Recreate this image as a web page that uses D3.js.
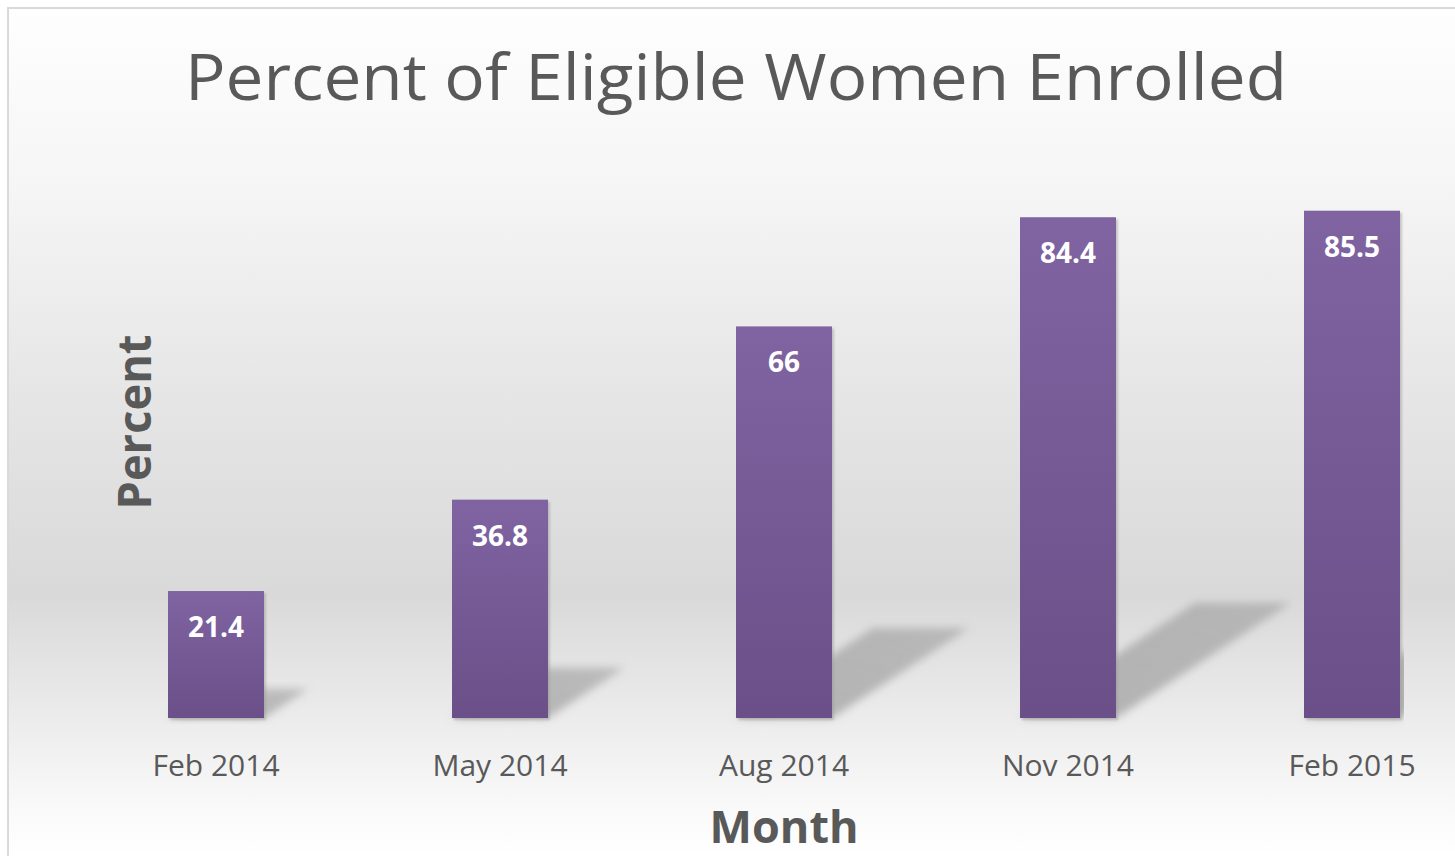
<!DOCTYPE html>
<html>
<head>
<meta charset="utf-8">
<script src="https://cdn.jsdelivr.net/npm/d3@7"></script>
<style>
  html, body { margin: 0; padding: 0; background: #ffffff; }
  svg { display: block; }
</style>
</head>
<body>
<div id="vis"></div>
<script>
const MONTHS = ["Feb 2014", "May 2014", "Aug 2014", "Nov 2014", "Feb 2015"];
const PERCENTS = [21.4, 36.8, 66, 84.4, 85.5];
const LABELS = ["21.4", "36.8", "66", "84.4", "85.5"];

const WIDTH = 1455;
const HEIGHT = 856;
const BASE = 718;

const SVG = d3.select("#vis").append("svg")
  .attr("width", WIDTH)
  .attr("height", HEIGHT);

const defs = SVG.append("defs");

// fondo con degradado vertical
const fondo = defs.append("linearGradient")
  .attr("id", "fondo")
  .attr("gradientUnits", "userSpaceOnUse")
  .attr("x1", 0).attr("y1", 8)
  .attr("x2", 0).attr("y2", 856);
[[0, "#fefefe"], [0.2, "#f6f6f6"], [0.45, "#e6e6e6"], [0.69, "#d9d9d9"],
 [0.84, "#ececec"], [0.94, "#f9f9f9"], [1, "#ffffff"]]
  .forEach(s => fondo.append("stop").attr("offset", s[0]).attr("stop-color", s[1]));

const barraGrad = defs.append("linearGradient")
  .attr("id", "barra")
  .attr("x1", 0).attr("y1", 0).attr("x2", 0).attr("y2", 1);
barraGrad.append("stop").attr("offset", 0).attr("stop-color", "#8064a2");
barraGrad.append("stop").attr("offset", 1).attr("stop-color", "#6a4f88");

const sombraGrad = defs.append("linearGradient")
  .attr("id", "sombraGrad")
  .attr("x1", 0).attr("y1", 1).attr("x2", 1).attr("y2", 0);
sombraGrad.append("stop").attr("offset", 0).attr("stop-color", "#8a8a8a").attr("stop-opacity", 0.6);
sombraGrad.append("stop").attr("offset", 1).attr("stop-color", "#8a8a8a").attr("stop-opacity", 0.45);

defs.append("filter").attr("id", "blur")
  .attr("x", "-20%").attr("y", "-20%").attr("width", "140%").attr("height", "140%")
  .append("feGaussianBlur").attr("stdDeviation", 4);

defs.append("filter").attr("id", "blurChico")
  .append("feGaussianBlur").attr("stdDeviation", 1);

// el area del grafico corta la ultima sombra
defs.append("clipPath").attr("id", "areaSombras")
  .append("rect")
  .attr("x", 0).attr("y", 0)
  .attr("width", 1404).attr("height", HEIGHT);

SVG.append("rect")
  .attr("x", 8).attr("y", 8)
  .attr("width", 1480).attr("height", 890)
  .attr("fill", "url(#fondo)")
  .attr("stroke", "#d9d9d9")
  .attr("stroke-width", 2);

const escalaX = d3.scaleBand()
  .domain(MONTHS)
  .range([74, 1494])
  .paddingInner(0.662)
  .paddingOuter(0.331);

const escalaY = d3.scaleLinear()
  .domain([0, 90])
  .range([BASE, 184]);

const datos = MONTHS.map((m, i) => ({ month: m, value: PERCENTS[i], label: LABELS[i] }));

// sombras inclinadas
SVG.append("g")
  .attr("clip-path", "url(#areaSombras)")
  .selectAll("path")
  .data(datos)
  .join("path")
  .attr("d", d => {
    const x0 = escalaX(d.month);
    const x1 = x0 + escalaX.bandwidth();
    const h = BASE - escalaY(d.value);
    const dx = 0.35 * h;
    const dy = 0.23 * h;
    return `M${x0},${BASE} L${x1},${BASE} L${x1 + dx},${BASE - dy} L${x0 + dx},${BASE - dy} Z`;
  })
  .attr("fill", "url(#sombraGrad)")
  .attr("filter", "url(#blur)");

// sombra fina de cada barra
SVG.append("g")
  .selectAll("rect")
  .data(datos)
  .join("rect")
  .attr("x", d => escalaX(d.month) + 2)
  .attr("y", d => escalaY(d.value) + 2)
  .attr("width", escalaX.bandwidth())
  .attr("height", d => BASE - escalaY(d.value))
  .attr("fill", "#9a9a9a")
  .attr("opacity", 0.5)
  .attr("filter", "url(#blurChico)");

SVG.append("g")
  .selectAll("rect")
  .data(datos)
  .join("rect")
  .attr("x", d => escalaX(d.month))
  .attr("y", d => escalaY(d.value))
  .attr("width", escalaX.bandwidth())
  .attr("height", d => BASE - escalaY(d.value))
  .attr("fill", "url(#barra)");

SVG.append("g")
  .selectAll("text")
  .data(datos)
  .join("text")
  .attr("x", d => escalaX(d.month) + escalaX.bandwidth() / 2)
  .attr("y", d => escalaY(d.value) + 46)
  .attr("text-anchor", "middle")
  .attr("font-family", "'Open Sans', sans-serif")
  .attr("font-weight", "bold")
  .attr("font-size", 28)
  .attr("fill", "#ffffff")
  .text(d => d.label);

const ejeX = SVG.append("g")
  .attr("transform", `translate(0, ${BASE})`)
  .call(d3.axisBottom(escalaX).tickSize(0));
ejeX.select(".domain").remove();
ejeX.selectAll("text")
  .attr("y", 58)
  .attr("dy", 0)
  .attr("font-family", "'Open Sans', sans-serif")
  .attr("font-size", 30)
  .attr("fill", "#595959");

SVG.append("text")
  .attr("x", 736)
  .attr("y", 100)
  .attr("text-anchor", "middle")
  .attr("font-family", "'Open Sans', sans-serif")
  .attr("font-size", 64)
  .attr("fill", "#595959")
  .attr("textLength", 1102)
  .attr("lengthAdjust", "spacingAndGlyphs")
  .text("Percent of Eligible Women Enrolled");

SVG.append("text")
  .attr("transform", "translate(151, 422) rotate(-90)")
  .attr("text-anchor", "middle")
  .attr("font-family", "'Open Sans', sans-serif")
  .attr("font-weight", "bold")
  .attr("font-size", 46)
  .attr("fill", "#595959")
  .attr("textLength", 175)
  .attr("lengthAdjust", "spacingAndGlyphs")
  .text("Percent");

SVG.append("text")
  .attr("x", 784)
  .attr("y", 843)
  .attr("text-anchor", "middle")
  .attr("font-family", "'Open Sans', sans-serif")
  .attr("font-weight", "bold")
  .attr("font-size", 44)
  .attr("fill", "#595959")
  .attr("textLength", 149)
  .attr("lengthAdjust", "spacingAndGlyphs")
  .text("Month");
</script>
</body>
</html>
